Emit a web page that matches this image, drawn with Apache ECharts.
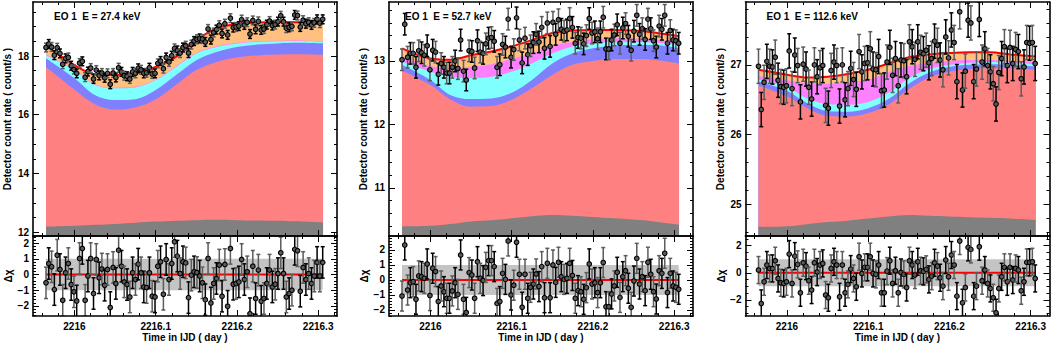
<!DOCTYPE html>
<html><head><meta charset="utf-8">
<script src="https://cdn.jsdelivr.net/npm/echarts@6/dist/echarts.min.js"></script>
<style>html,body{margin:0;padding:0;background:#fff}#c{width:1051px;height:343px}</style>
</head><body><div id="c"></div>
<script>
// Time of each bin, in units of 0.001 day relative to IJD 2216
const TIME = [-35.0, -31.6, -28.1, -24.7, -21.2, -17.8, -14.4, -10.9, -7.5, -4.0,
 -0.6, 2.8, 6.3, 9.7, 13.2, 16.6, 20.0, 23.5, 26.9, 30.4,
 33.8, 37.2, 40.7, 44.1, 47.6, 51.0, 54.4, 57.9, 61.3, 64.8,
 68.2, 71.6, 75.1, 78.5, 82.0, 85.4, 88.8, 92.3, 95.7, 99.2,
 102.6, 106.0, 109.5, 112.9, 116.4, 119.8, 123.2, 126.7, 130.1, 133.6,
 137.0, 140.4, 143.9, 147.3, 150.8, 154.2, 157.6, 161.1, 164.5, 168.0,
 171.4, 174.8, 178.3, 181.7, 185.2, 188.6, 192.0, 195.5, 198.9, 202.4,
 205.8, 209.2, 212.7, 216.1, 219.6, 223.0, 226.4, 229.9, 233.3, 236.8,
 240.2, 243.6, 247.1, 250.5, 254.0, 257.4, 260.8, 264.3, 267.7, 271.2,
 274.6, 278.0, 281.5, 284.9, 288.4, 291.8, 295.2, 298.7, 302.1, 305.6];

// Model curve sample times (same unit)
const MODEL_T = [-35, 0, 25, 50, 75, 100, 125, 150, 175, 200, 225, 250, 275, 306];

const X_TICKS = [0, 100, 200, 300];
const X_TICK_LABELS = ['2216', '2216.1', '2216.2', '2216.3'];

// ---------- Panel 1 : E = 27.4 keV ----------
const P1_RATE = [18.29, 18.41, 18.31, 18.03, 18.28, 18.09, 17.72, 17.92, 17.95, 17.67,
 17.54, 17.41, 17.76, 17.82, 17.28, 17.47, 17.59, 17.22, 17.52, 17.34,
 17.42, 17.26, 17.41, 17.04, 17.42, 17.27, 17.60, 17.46, 17.33, 17.31,
 17.22, 17.46, 17.41, 17.58, 17.53, 17.41, 17.43, 17.60, 17.39, 17.41,
 17.75, 17.83, 17.57, 17.95, 17.80, 18.01, 18.26, 18.19, 18.10, 18.29,
 18.35, 18.10, 18.39, 18.51, 18.57, 18.60, 18.58, 18.48, 18.92, 18.56,
 18.80, 18.90, 19.05, 18.77, 19.10, 18.72, 19.29, 18.97, 18.99, 19.02,
 19.24, 19.06, 19.15, 18.75, 19.21, 18.91, 19.18, 18.89, 18.92, 19.07,
 19.19, 19.04, 19.07, 19.17, 19.37, 19.17, 18.95, 18.98, 19.01, 19.40,
 19.38, 18.99, 19.22, 19.10, 19.15, 19.06, 19.13, 19.25, 19.12, 19.25];
const P1_ERR = 0.15;
const P1_RESID = [-0.53, 0.70, 0.49, -0.96, 1.23, 0.32, -1.64, 0.11, 0.70, -0.64,
 -1.10, -1.68, 1.02, 1.66, -1.64, -0.10, 1.02, -1.21, 0.96, -0.21,
 0.35, -0.68, 0.32, -2.10, 0.45, -0.57, 1.55, 0.53, -0.47, -0.64,
 -1.43, 0.11, -0.32, 0.66, 0.11, -0.79, -0.83, 0.11, -1.38, -1.43,
 0.53, 0.81, -1.26, 0.96, -0.32, 0.70, 2.09, 1.17, 0.06, 0.81,
 0.74, -1.47, -0.04, 0.17, 0.13, -0.10, -0.53, -1.60, 1.02, -1.81,
 -0.57, -0.25, 0.60, -1.38, 0.64, -2.02, 1.66, -0.62, -0.57, -0.47,
 0.96, -0.32, 0.17, -2.49, 0.53, -1.53, 0.28, -1.70, -1.53, -0.57,
 0.28, -0.79, -0.62, 0.06, 1.38, 0.06, -1.43, -1.21, -1.00, 1.60,
 1.51, -1.06, 0.45, -0.32, 0.06, -0.57, -0.10, 0.77, -0.10, 0.77];
// cumulative model levels (top edge of each coloured band)
const P1_GRAY    = [12.19, 12.22, 12.25, 12.28, 12.32, 12.36, 12.39, 12.41, 12.42, 12.41, 12.40, 12.39, 12.37, 12.33];
const P1_SALMON  = [17.63, 16.86, 16.36, 16.18, 16.25, 16.52, 17.01, 17.52, 17.80, 17.95, 18.02, 18.05, 18.06, 18.04];
const P1_BLUE    = [17.92, 17.24, 16.67, 16.50, 16.53, 16.84, 17.35, 17.86, 18.14, 18.31, 18.39, 18.43, 18.45, 18.43];
const P1_CYAN    = [18.03, 17.52, 17.01, 16.90, 16.93, 17.18, 17.63, 18.09, 18.31, 18.43, 18.48, 18.50, 18.51, 18.48];
const P1_MAGENTA = [18.05, 17.54, 17.03, 16.92, 16.95, 17.20, 17.65, 18.11, 18.33, 18.45, 18.50, 18.52, 18.53, 18.50];
const P1_TOTAL   = [18.37, 17.69, 17.38, 17.35, 17.46, 17.63, 17.97, 18.54, 18.94, 19.09, 19.14, 19.16, 19.15, 19.13];

// ---------- Panel 2 : E = 52.7 keV ----------
const P2_RATE = [13.02, 13.58, 13.06, 13.12, 13.12, 12.90, 13.16, 13.13, 13.09, 13.24,
 12.86, 13.17, 13.14, 12.79, 12.96, 12.90, 12.81, 12.81, 12.90, 13.00,
 12.88, 13.33, 12.84, 12.70, 13.16, 13.15, 12.89, 13.32, 13.14, 13.12,
 13.27, 13.36, 13.37, 13.31, 12.90, 12.94, 13.26, 13.22, 13.66, 13.06,
 13.18, 13.68, 13.33, 12.97, 13.36, 13.10, 13.24, 13.29, 13.42, 13.30,
 13.53, 13.20, 13.60, 13.23, 13.61, 13.42, 13.65, 13.50, 13.47, 13.49,
 13.67, 13.53, 13.28, 13.37, 13.36, 13.27, 13.40, 13.67, 13.44, 13.46,
 13.35, 13.46, 13.69, 13.19, 13.19, 13.33, 13.41, 13.57, 13.28, 13.52,
 13.59, 13.39, 13.17, 13.47, 13.72, 13.42, 13.51, 13.34, 13.66, 13.51,
 13.32, 13.22, 13.55, 13.50, 13.72, 13.28, 13.48, 13.33, 13.32, 13.28];
const P2_ERR = 0.17;
const P2_RESID = [-1.07, 2.33, -0.67, -0.18, -0.11, -1.29, 0.27, 0.22, 0.11, 1.07,
 -1.04, 0.78, 0.56, -1.44, -0.40, -0.78, -1.22, -1.22, -0.73, -0.18,
 -0.96, 1.67, -1.29, -2.16, 0.49, 0.33, -1.22, 1.22, 0.11, -0.04,
 0.84, 1.29, 1.29, 0.89, -1.56, -1.44, 0.44, 0.04, 2.60, -1.00,
 -0.35, 2.51, 0.38, -1.82, 0.38, -1.22, -0.49, -0.27, 0.40, -0.44,
 0.89, -1.18, 1.11, -1.18, 1.00, -0.16, 1.18, 0.22, 0.04, 0.11,
 1.11, 0.30, -1.22, -0.71, -0.78, -1.29, -0.51, 1.07, -0.27, -0.18,
 -0.84, -0.18, 1.16, -1.78, -1.78, -0.93, -0.40, 0.51, -1.16, 0.22,
 0.62, -0.55, -1.82, -0.07, 1.44, -0.27, 0.22, -0.71, 1.18, 0.38,
 -0.78, -1.27, 0.62, 0.44, 1.78, -0.84, 0.44, -0.40, -0.49, -0.62];
const P2_GRAY    = [10.39, 10.40, 10.43, 10.47, 10.49, 10.52, 10.55, 10.57, 10.56, 10.54, 10.52, 10.50, 10.47, 10.42];
const P2_SALMON  = [12.85, 12.62, 12.39, 12.28, 12.29, 12.39, 12.57, 12.78, 12.94, 13.00, 13.03, 13.03, 13.02, 12.96];
const P2_BLUE    = [12.94, 12.70, 12.46, 12.40, 12.41, 12.50, 12.70, 12.96, 13.12, 13.20, 13.24, 13.25, 13.25, 13.20];
const P2_CYAN    = [12.99, 12.83, 12.75, 12.73, 12.75, 12.83, 12.96, 13.12, 13.23, 13.28, 13.30, 13.30, 13.29, 13.25];
const P2_MAGENTA = [13.07, 12.92, 12.88, 12.91, 12.95, 13.03, 13.12, 13.24, 13.30, 13.34, 13.36, 13.35, 13.34, 13.30];
const P2_TOTAL   = [13.20, 13.04, 13.02, 13.09, 13.15, 13.23, 13.33, 13.44, 13.48, 13.49, 13.49, 13.48, 13.45, 13.39];

// ---------- Panel 3 : E = 112.6 keV ----------
const P3_RATE = [26.98, 26.36, 26.75, 27.05, 26.98, 26.97, 27.11, 26.78, 26.69, 26.68,
 26.70, 27.20, 26.66, 27.14, 26.99, 26.47, 27.01, 26.94, 26.68, 26.51,
 27.00, 26.83, 26.96, 26.99, 26.42, 26.38, 26.92, 27.04, 26.99, 26.41,
 27.00, 26.50, 26.66, 26.95, 26.79, 26.65, 27.19, 26.90, 27.02, 27.03,
 27.23, 26.94, 26.93, 27.12, 26.63, 26.64, 27.04, 27.25, 26.85, 27.09,
 26.70, 27.07, 27.06, 26.83, 27.33, 27.26, 27.08, 27.33, 27.18, 27.16,
 27.21, 27.03, 27.09, 27.34, 27.28, 27.07, 26.93, 27.40, 27.10, 27.50,
 27.32, 26.76, 27.76, 26.64, 26.91, 27.64, 27.60, 26.76, 26.94, 27.65,
 27.04, 27.23, 26.99, 26.90, 26.73, 26.44, 26.89, 27.09, 27.26, 26.99,
 27.25, 27.02, 27.22, 27.19, 26.80, 26.97, 27.32, 27.31, 27.32, 27.02];
const P3_ERR = 0.245;
const P3_RESID = [0.20, -2.27, -0.67, 0.57, 0.32, 0.32, 0.89, -0.42, -0.74, -0.79,
 -0.67, 1.38, -0.79, 1.23, 0.62, -1.48, 0.74, 0.49, -0.59, -1.28,
 0.74, 0.05, 0.57, 0.69, -1.65, -1.85, 0.32, 0.81, 0.57, -1.78,
 0.57, -1.48, -0.86, 0.27, -0.42, -1.04, 1.19, -0.05, 0.40, 0.40,
 1.19, -0.05, -0.12, 0.57, -1.48, -1.48, 0.12, 0.89, -0.79, 0.15,
 -1.48, 0.02, -0.12, -1.09, 0.89, 0.57, -0.17, 0.81, 0.15, 0.10,
 0.25, -0.49, -0.25, 0.74, 0.49, -0.37, -0.99, 0.94, -0.30, 1.31,
 0.57, -1.73, 2.35, -2.22, -1.09, 1.88, 1.73, -1.73, -0.99, 1.93,
 -0.59, 0.20, -0.79, -1.16, -1.85, -2.96, -1.16, -0.30, 0.40, -0.67,
 0.40, -0.54, 0.32, 0.20, -1.33, -0.67, 0.77, 0.77, 0.81, -0.42];
const P3_GRAY    = [24.68, 24.69, 24.72, 24.75, 24.77, 24.80, 24.83, 24.85, 24.84, 24.83, 24.82, 24.81, 24.80, 24.78];
const P3_SALMON  = [26.70, 26.55, 26.38, 26.27, 26.26, 26.31, 26.43, 26.65, 26.82, 26.90, 26.94, 26.95, 26.95, 26.93];
const P3_BLUE    = [26.76, 26.63, 26.45, 26.34, 26.33, 26.38, 26.51, 26.73, 26.89, 26.97, 27.00, 27.01, 27.00, 26.98];
const P3_CYAN    = [26.79, 26.68, 26.52, 26.44, 26.43, 26.47, 26.60, 26.81, 26.94, 27.00, 27.03, 27.04, 27.03, 27.01];
const P3_MAGENTA = [26.84, 26.78, 26.74, 26.73, 26.75, 26.79, 26.89, 26.98, 27.03, 27.06, 27.07, 27.07, 27.06, 27.04];
const P3_TOTAL   = [26.93, 26.86, 26.82, 26.83, 26.87, 26.93, 27.02, 27.11, 27.15, 27.17, 27.18, 27.18, 27.15, 27.12];

const PANELS = [
  { title: 'EO 1  E = 27.4 keV', rate: P1_RATE, err: P1_ERR, resid: P1_RESID,
    bands: [P1_TOTAL, P1_MAGENTA, P1_CYAN, P1_BLUE, P1_SALMON, P1_GRAY],
    yMin: 11.87, yMax: 19.84, yTicks: [12, 14, 16, 18], yMinor: 0.5,
    rMin: -2.64, rMax: 2.45, rTicks: [-2, -1, 0, 1, 2], rMinor: 0.2 },
  { title: 'EO 1  E = 52.7 keV', rate: P2_RATE, err: P2_ERR, resid: P2_RESID,
    bands: [P2_TOTAL, P2_MAGENTA, P2_CYAN, P2_BLUE, P2_SALMON, P2_GRAY],
    yMin: 10.24, yMax: 13.93, yTicks: [11, 12, 13], yMinor: 0.2,
    rMin: -2.4, rMax: 2.93, rTicks: [-2, -1, 0, 1, 2], rMinor: 0.2 },
  { title: 'EO 1  E = 112.6 keV', rate: P3_RATE, err: P3_ERR, resid: P3_RESID,
    bands: [P3_TOTAL, P3_MAGENTA, P3_CYAN, P3_BLUE, P3_SALMON, P3_GRAY],
    yMin: 24.55, yMax: 27.90, yTicks: [25, 26, 27], yMinor: 0.2,
    rMin: -3.2, rMax: 2.72, rTicks: [-2, 0, 2], rMinor: 0.5 }
];

// ---------- layout / style ----------
const FONT = 'Liberation Sans';
const BAND_COLORS = ['#ffc080', '#ff80ff', '#80ffff', '#8080ff', '#ff8080', '#808080'];
const LEFTS = [33, 389, 745.5];
const PW = 304;
const TOP_Y = 2, TOP_H = 234, BOT_Y = 236, BOT_H = 80;
const X_MIN = -51, X_MAX = 323.2, X_MINOR = 20;

function stepTicks(min, max, step, exclude) {
  const out = [];
  const start = Math.ceil(min / step - 1e-9);
  for (let k = start; k * step <= max + 1e-9; k++) {
    const v = Math.round(k * step * 1e6) / 1e6;
    if (!exclude.some(e => Math.abs(e - v) < 1e-6)) out.push(v);
  }
  return out;
}
function fmtNum(v) { return (v < 0 ? '\u2212' : '') + String(Math.abs(v)); }

function axis(gi, pos, min, max, ticks, len, showLine, label) {
  return {
    type: 'value', gridIndex: gi, min: min, max: max, position: pos, z: 10,
    axisLine: { show: showLine, onZero: false, lineStyle: { color: '#000', width: 1.6 } },
    axisTick: { show: true, inside: true, length: len, customValues: ticks, lineStyle: { color: '#000', width: 1 } },
    axisLabel: label ? { show: true, customValues: label.values, formatter: label.fmt, color: '#000',
      fontFamily: FONT, fontWeight: 'bold', fontSize: 10, margin: label.margin } : { show: false },
    splitLine: { show: false }, minorTick: { show: false }, splitArea: { show: false }
  };
}

function errRender(params, api) {
  const x = api.value(0), y = api.value(1), e = api.value(2);
  const lo = api.coord([x, y - e]), hi = api.coord([x, y + e]), c = api.coord([x, y]);
  const col = params.dataIndex % 2 ? '#000000' : '#5c5c5c';
  const w = 2;
  const ls = { stroke: col, lineWidth: 1.5 };
  return { type: 'group', children: [
    { type: 'line', shape: { x1: lo[0], y1: lo[1], x2: hi[0], y2: hi[1] }, style: ls },
    { type: 'line', shape: { x1: lo[0] - w, y1: lo[1], x2: lo[0] + w, y2: lo[1] }, style: ls },
    { type: 'line', shape: { x1: hi[0] - w, y1: hi[1], x2: hi[0] + w, y2: hi[1] }, style: ls },
    { type: 'circle', shape: { cx: c[0], cy: c[1], r: 2.3 }, style: { fill: '#5a5a5a', stroke: '#000', lineWidth: 1.1 } }
  ] };
}

const grids = [], xAxes = [], yAxes = [], series = [], graphics = [];
const xMinorTicks = stepTicks(X_MIN, X_MAX, X_MINOR, X_TICKS);
const n = Math.min(TIME.length, 100);

PANELS.forEach((p, k) => {
  const L = LEFTS[k];
  ['top', 'bot'].forEach(kind => {
    const isBot = kind === 'bot';
    const gi = grids.length;
    grids.push({ left: L, top: isBot ? BOT_Y : TOP_Y, width: PW, height: isBot ? BOT_H : TOP_H,
      show: false, containLabel: false, outerBoundsMode: 'none' });
    const yMin = isBot ? p.rMin : p.yMin, yMax = isBot ? p.rMax : p.yMax;
    const yT = isBot ? p.rTicks : p.yTicks;
    const yMinorT = stepTicks(yMin, yMax, isBot ? p.rMinor : p.yMinor, yT);
    const xi = xAxes.length, yi = yAxes.length;
    xAxes.push(axis(gi, 'bottom', X_MIN, X_MAX, X_TICKS, 6, true,
      isBot ? { values: X_TICKS, margin: 5, fmt: v => X_TICK_LABELS[X_TICKS.indexOf(Math.round(v))] } : null));
    xAxes.push(axis(gi, 'bottom', X_MIN, X_MAX, xMinorTicks, 3, false, null));
    xAxes.push(axis(gi, 'top', X_MIN, X_MAX, X_TICKS, 6, true, null));
    xAxes.push(axis(gi, 'top', X_MIN, X_MAX, xMinorTicks, 3, false, null));
    yAxes.push(axis(gi, 'left', yMin, yMax, yT, 6, true, { values: yT, margin: 4, fmt: v => fmtNum(v) }));
    yAxes.push(axis(gi, 'left', yMin, yMax, yMinorT, 3, false, null));
    yAxes.push(axis(gi, 'right', yMin, yMax, yT, 6, true, null));
    yAxes.push(axis(gi, 'right', yMin, yMax, yMinorT, 3, false, null));

    if (!isBot) {
      p.bands.forEach((arr, b) => {
        series.push({ type: 'line', xAxisIndex: xi, yAxisIndex: yi, silent: true, z: 2,
          data: MODEL_T.map((t, i) => [t, arr[i]]), smooth: 0.35, symbol: 'none',
          lineStyle: { width: 0, opacity: 0 }, areaStyle: { color: BAND_COLORS[b], opacity: 1, origin: 'start' } });
      });
      series.push({ type: 'line', xAxisIndex: xi, yAxisIndex: yi, silent: true, z: 3,
        data: MODEL_T.map((t, i) => [t, p.bands[0][i]]), smooth: 0.35, symbol: 'none',
        lineStyle: { color: '#ff0000', width: 2 } });
      series.push({ type: 'custom', xAxisIndex: xi, yAxisIndex: yi, z: 4, clip: true, silent: true,
        renderItem: errRender, data: TIME.slice(0, n).map((t, i) => [t, p.rate[i], p.err]) });
      graphics.push({ type: 'text', left: L + 21 - (k === 1 ? 5 : 0), top: 11,
        style: { text: p.title, font: 'bold 10px ' + FONT, fill: '#000' } });
    } else {
      const t0 = TIME[0], t1 = TIME[n - 1];
      series.push({ type: 'custom', xAxisIndex: xi, yAxisIndex: yi, z: 2, silent: true,
        renderItem: (params, api) => {
          const a = api.coord([api.value(0), api.value(1)]), b = api.coord([api.value(2), api.value(3)]);
          return { type: 'rect', shape: { x: a[0], y: b[1], width: b[0] - a[0], height: a[1] - b[1] }, style: { fill: '#c4c4c4' } };
        }, data: [[t0, -1, t1, 1]] });
      series.push({ type: 'line', xAxisIndex: xi, yAxisIndex: yi, silent: true, z: 3,
        data: [[t0, 0], [t1, 0]], symbol: 'none', lineStyle: { color: '#ff0000', width: 2 } });
      series.push({ type: 'custom', xAxisIndex: xi, yAxisIndex: yi, z: 4, clip: true, silent: true,
        renderItem: errRender, data: TIME.slice(0, n).map((t, i) => [t, p.resid[i], 1]) });
    }
  });
  // axis titles
  const yTitleX = [7, 363, 720][k];
  graphics.push({ type: 'text', x: yTitleX, y: 119, rotation: Math.PI / 2,
    style: { text: 'Detector count rate ( count/s )', font: 'bold 10px ' + FONT, fill: '#000',
      align: 'center', verticalAlign: 'middle', textAlign: 'center', textVerticalAlign: 'middle' } });
  graphics.push({ type: 'text', x: yTitleX + 1, y: 276, rotation: Math.PI / 2,
    style: { text: '\u0394\u03c7', font: 'bold 10px ' + FONT, fill: '#000',
      align: 'center', verticalAlign: 'middle', textAlign: 'center', textVerticalAlign: 'middle' } });
  graphics.push({ type: 'text', x: L + PW / 2, y: 337,
    style: { text: 'Time in IJD ( day )', font: 'bold 10px ' + FONT, fill: '#000',
      align: 'center', verticalAlign: 'middle', textAlign: 'center', textVerticalAlign: 'middle' } });
});

const chart = echarts.init(document.getElementById('c'), null, { renderer: 'svg' });
chart.setOption({
  animation: false,
  backgroundColor: '#ffffff',
  grid: grids, xAxis: xAxes, yAxis: yAxes, series: series, graphic: graphics
});
</script>
</body></html>
